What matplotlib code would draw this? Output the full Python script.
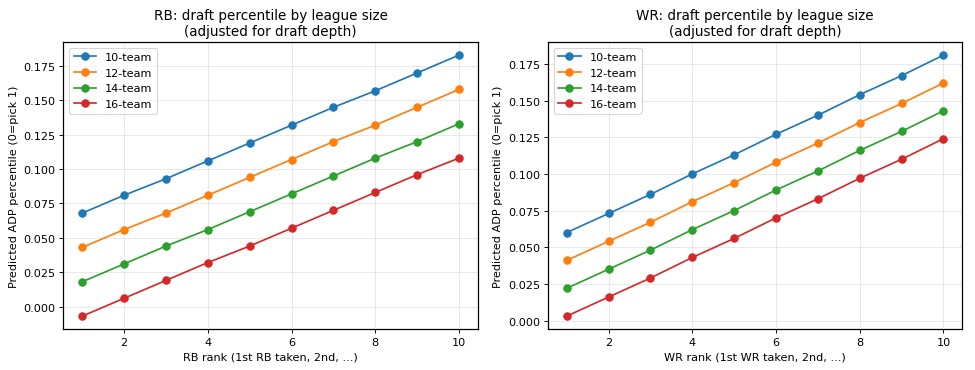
import numpy as np
import matplotlib
matplotlib.use("Agg")
import matplotlib.pyplot as plt

ranks = [1, 2, 3, 4, 5, 6, 7, 8, 9, 10]
league_labels = ["10-team", "12-team", "14-team", "16-team"]

# RB predicted ADP percentile by league size
rb_10 = [0.068, 0.081, 0.093, 0.106, 0.119, 0.132, 0.145, 0.157, 0.170, 0.183]
rb_12 = [0.043, 0.056, 0.068, 0.081, 0.094, 0.107, 0.120, 0.132, 0.145, 0.158]
rb_14 = [0.018, 0.031, 0.044, 0.056, 0.069, 0.082, 0.095, 0.108, 0.120, 0.133]
rb_16 = [-0.007, 0.006, 0.019, 0.032, 0.044, 0.057, 0.070, 0.083, 0.096, 0.108]

# WR predicted ADP percentile by league size
wr_10 = [0.060, 0.073, 0.086, 0.100, 0.113, 0.127, 0.140, 0.154, 0.167, 0.181]
wr_12 = [0.041, 0.054, 0.067, 0.081, 0.094, 0.108, 0.121, 0.135, 0.148, 0.162]
wr_14 = [0.022, 0.035, 0.048, 0.062, 0.075, 0.089, 0.102, 0.116, 0.129, 0.143]
wr_16 = [0.003, 0.016, 0.029, 0.043, 0.056, 0.070, 0.083, 0.097, 0.110, 0.124]


def plot_position(ax, pos, series):
    """
    Draw one line per league size for the given position
    """
    for label, vals in zip(league_labels, series):
        ax.plot(ranks, vals, marker='o', markersize=6.5, linewidth=1.5, label=label)
    ax.set_title(f"{pos}: draft percentile by league size\n(adjusted for draft depth)")
    ax.set_xlabel(f"{pos} rank (1st {pos} taken, 2nd, ...)")
    ax.set_ylabel("Predicted ADP percentile (0=pick 1)")
    ax.grid(True, alpha=0.3)
    for s in ax.spines.values():
        s.set_linewidth(1.1)
    ax.legend(loc='upper left')


fig, axes = plt.subplots(1, 2, figsize=(12, 4.566), dpi=81.25)
plot_position(axes[0], "RB", [rb_10, rb_12, rb_14, rb_16])
plot_position(axes[1], "WR", [wr_10, wr_12, wr_14, wr_16])
fig.subplots_adjust(left=0.065, right=0.987, top=0.884, bottom=0.11, wspace=0.169)
fig.savefig("out.png", dpi=81.25)
